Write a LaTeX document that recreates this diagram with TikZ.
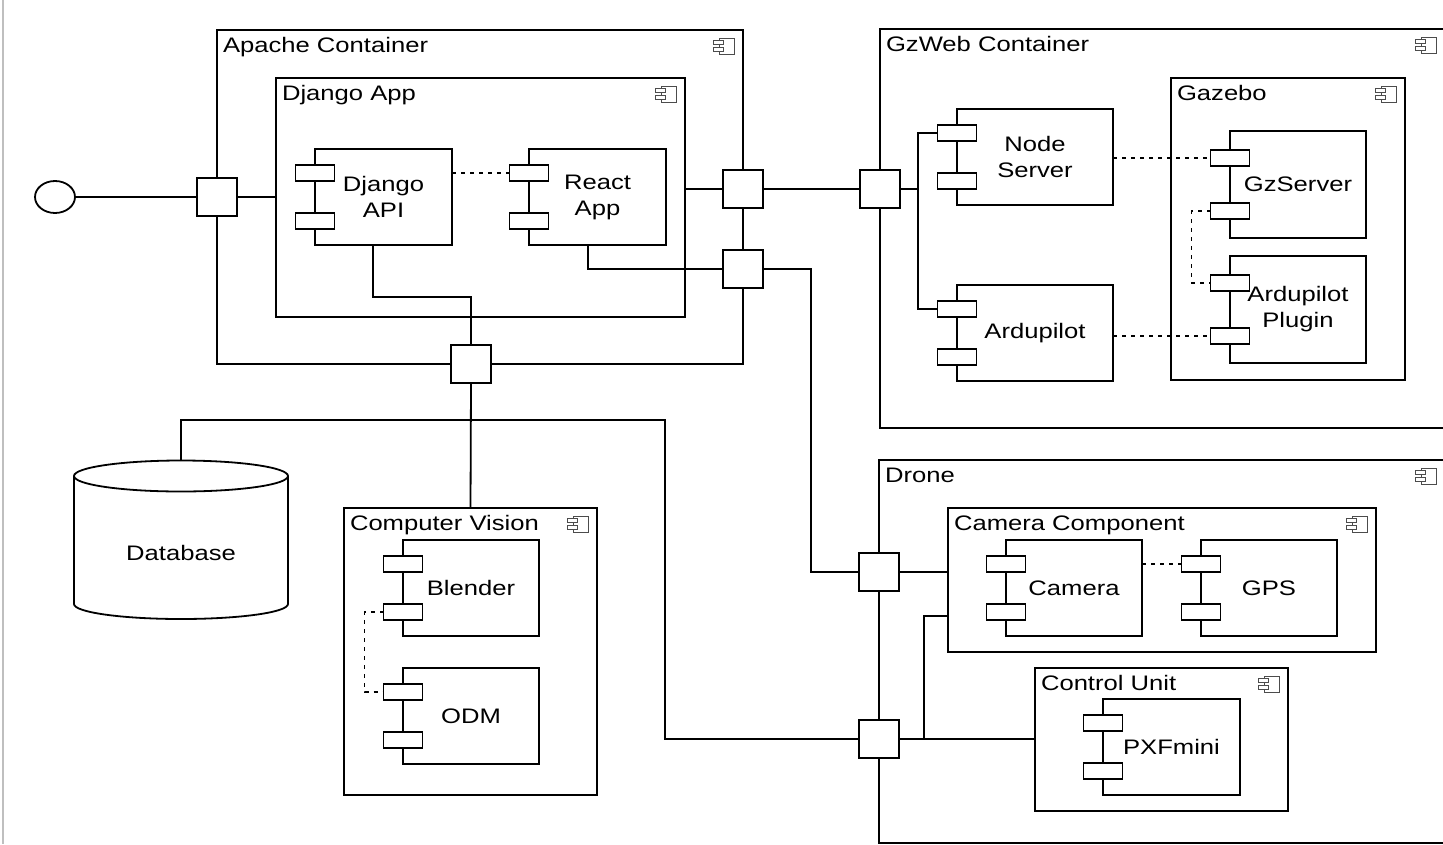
\documentclass[tikz,border=0pt]{standalone}
\usepackage{fontspec}
\setmainfont{Liberation Sans}[FakeStretch=1.22]
\usetikzlibrary{calc,shapes.geometric}

\tikzset{
  ln/.style={line width=1.8pt},
  dotln/.style={line width=1.8pt, dash pattern=on 4pt off 5pt},
  txt/.style={font=\fontsize{21}{26}\selectfont, inner sep=0pt, outer sep=0pt},
  cont/.style={draw, line width=1.8pt, inner sep=0pt, outer sep=0pt, rectangle},
  clabel/.style={txt},
  cbody/.style={draw, line width=1.8pt, inner sep=0pt, outer sep=0pt, rectangle, align=center, txt},
  cport/.style={draw, fill=white, line width=1.8pt, inner sep=0pt, outer sep=0pt, minimum width=39, minimum height=16},
  bport/.style={draw, fill=white, line width=1.8pt, inner sep=0pt, outer sep=0pt, minimum width=40, minimum height=38},
  icon/.style={draw=black!70, line width=1pt},
}

\newcommand{\cicon}[1]{%
  \draw[icon, fill=white] ($(#1.north east)+(-24,8)$) rectangle ($(#1.north east)+(-9,24)$);
  \draw[icon, fill=white] ($(#1.north east)+(-30,10.5)$) rectangle ($(#1.north east)+(-20,14.5)$);
  \draw[icon, fill=white] ($(#1.north east)+(-30,17.5)$) rectangle ($(#1.north east)+(-20,21.5)$);}

\newcommand{\ucont}[6]{%
  \node[cont, minimum width={#4-#2}, minimum height={#5-#3}, anchor=north west] (#1) at (#2,#3) {};
  \node[clabel, anchor=base west] (#1-lab) at ($(#1.north west)+(6,22)$) {#6};
  \cicon{#1}}

\newcommand{\ucomp}[6]{%
  \node[cbody, minimum width=#4, minimum height=#5, anchor=north west] (#1) at (#2,#3) {#6};
  \node[cport] (#1-p1) at ($(#1.north west)!0.25!(#1.south west)$) {};
  \node[cport] (#1-p2) at ($(#1.north west)!0.75!(#1.south west)$) {};}

\begin{document}
\begin{tikzpicture}[x=1pt, y=-1pt]
\useasboundingbox (0,0) rectangle (1443,844);
\clip (0,0) rectangle (1443,844);
\fill[white] (0,0) rectangle (1443,844);
\draw[black!25, line width=1.5pt] (3,0) -- (3,844);

% ---------- containers ----------
\ucont{apache}{217}{30}{743}{364}{Apache Container}
\ucont{djapp}{276}{78}{685}{317}{Django App}
\ucont{gzweb}{880}{29}{1445}{428}{GzWeb Container}
\ucont{gazebo}{1171}{78}{1405}{380}{Gazebo}
\ucont{drone}{879}{460}{1445}{843}{Drone}
\ucont{camcomp}{948}{508}{1376}{652}{Camera Component}
\ucont{ctrl}{1035}{668}{1288}{811}{Control Unit}
\ucont{cv}{344}{508}{597}{795}{Computer Vision}

% ---------- components ----------
\ucomp{api}{315}{149}{137}{96}{Django\\API}
\ucomp{react}{529}{149}{137}{96}{React\\App}
\ucomp{ns}{957}{109}{156}{96}{Node\\Server}
\ucomp{ardu}{957}{285}{156}{96}{Ardupilot}
\ucomp{gzs}{1230}{131}{136}{107}{GzServer}
\ucomp{plug}{1230}{256}{136}{107}{Ardupilot\\Plugin}
\ucomp{cam}{1006}{540}{136}{96}{Camera}
\ucomp{gps}{1201}{540}{136}{96}{GPS}
\ucomp{pxf}{1103}{699}{137}{96}{PXFmini}
\ucomp{blend}{403}{540}{136}{96}{Blender}
\ucomp{odm}{403}{668}{136}{96}{ODM}

% ---------- database ----------
\draw[ln] (181,604) ellipse[x radius=107, y radius=15];
\fill[white] (74,476) rectangle (288,604);
\draw[ln] (74,476) -- (74,604) (288,476) -- (288,604);
\draw[ln, fill=white] (181,476) ellipse[x radius=107, y radius=15.5];
\node[inner sep=0pt, outer sep=0pt, minimum width=214, minimum height=158] (db) at (181,540) {};
\node[txt] (dbtext) at (181,553) {Database};

% ---------- interface ----------
\node[draw, ellipse, line width=1.8pt, inner sep=0pt, outer sep=0pt, minimum width=40, minimum height=32] (iface) at (55,197) {};

% ---------- boundary ports ----------
\node[bport] (pL) at (217,197) {};
\node[bport] (pR1) at (743,189) {};
\node[bport] (pR2) at (743,269) {};
\node[bport] (pB) at (471,364) {};
\node[bport] (gzp) at (880,189) {};
\node[bport] (dp1) at (879,572) {};
\node[bport] (dp2) at (879,739) {};

% ---------- connectors ----------
\draw[ln] (iface.east) -- (pL.west);
\draw[ln] (pL.east) -- (pL.east -| djapp.west);
\draw[ln] (pR1.west -| djapp.east) -- (pR1.west);
\draw[ln] (pR1.east) -- (gzp.west);
\draw[ln] ([xshift=-9.5pt]react.south) |- (pR2.west);
\draw[ln] (pR2.east) -- ++(48,0) |- (dp1.west);
\draw[ln] ([xshift=-10.5pt]api.south) -- ++(0,52) -| (pB.north);
\draw[ln] (pB.south) -- (cv.north);
\coordinate (k1) at (665,420);
\draw[ln] (db.north) |- (k1) |- (dp2.west);
\draw[ln] (gzp.east) -- ++(18,0) coordinate (j);
\draw[ln] (ns-p1.west) -| (j) |- (ardu-p1.west);
\draw[ln] (dp1.east) -- (dp1.east -| camcomp.west);
\draw[ln] (dp2.east) -- (dp2.east -| ctrl.west);
\draw[ln] ($(dp2.east)+(25,0)$) |- ([yshift=36pt]camcomp.south west);

% ---------- dotted dependencies ----------
\draw[dotln] (api.east |- react-p1.west) -- (react-p1.west);
\draw[dotln] (ns.east |- gzs-p1.west) -- (gzs-p1.west);
\draw[dotln] (ardu.east |- plug-p2.west) -- (plug-p2.west);
\draw[dotln] (gzs-p2.west) -- ++(-19,0) |- (plug-p1.west);
\draw[dotln] (cam.east |- gps-p1.west) -- (gps-p1.west);
\draw[dotln] (blend-p2.west) -- ++(-19,0) |- (odm-p1.west);
\end{tikzpicture}
\end{document}
